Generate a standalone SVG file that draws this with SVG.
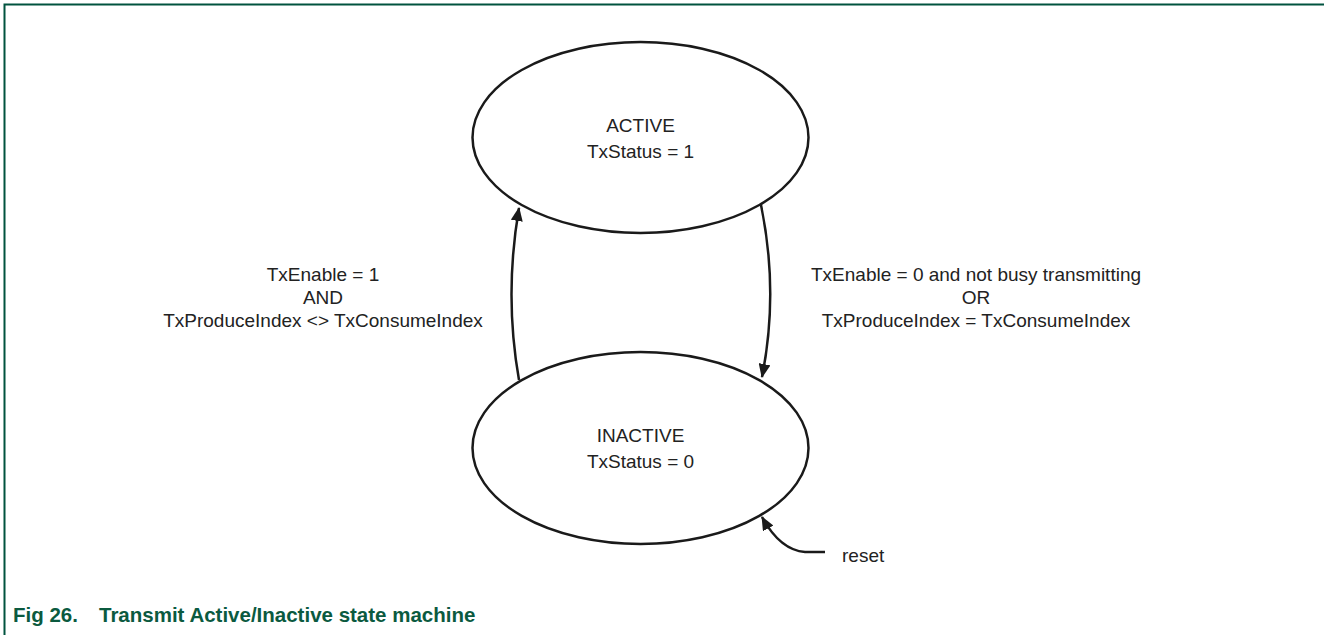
<svg xmlns="http://www.w3.org/2000/svg" width="1324" height="635" viewBox="0 0 1324 635">
<style>
.state{fill:#fff;stroke:#1a1a1a;stroke-width:2.5}
.t{font-family:"Liberation Sans",Arial,sans-serif;font-size:19px;fill:#222;text-anchor:middle}
.edge{fill:none;stroke:#1a1a1a;stroke-width:2.5}
.cap{font-family:"Liberation Sans",Arial,sans-serif;font-size:20.5px;font-weight:bold;fill:#0b5a3f}
</style>
<defs>
<marker id="ah" viewBox="0 0 14 12" refX="13" refY="6" markerWidth="14" markerHeight="12" markerUnits="userSpaceOnUse" orient="auto">
<path d="M0,0 L14,6 L0,12 Z" fill="#1a1a1a"/>
</marker>
</defs>
<rect width="1324" height="635" fill="#fff"/>
<path d="M4.5,635 V4.5 H1324" fill="none" stroke="#00533f" stroke-width="2"/>
<g id="connectors">
<path class="edge" d="M519,380 Q504,295 519,208" marker-end="url(#ah)"/>
<path class="edge" d="M761,205 Q779,292 762,377" marker-end="url(#ah)"/>
<path class="edge" d="M825,552 H805 Q780,550 762,517" marker-end="url(#ah)"/>
</g>
<g id="active">
<ellipse class="state" cx="640.5" cy="137.5" rx="168" ry="95.5"/>
<text class="t" x="640.5" y="132">ACTIVE</text>
<text class="t" x="640.5" y="157.5">TxStatus = 1</text>
</g>
<g id="inactive">
<ellipse class="state" cx="640.5" cy="448" rx="168" ry="96"/>
<text class="t" x="640.5" y="442">INACTIVE</text>
<text class="t" x="640.5" y="468">TxStatus = 0</text>
</g>
<g id="label-left">
<text class="t" x="323" y="281">TxEnable = 1</text>
<text class="t" x="323" y="304">AND</text>
<text class="t" x="323" y="327">TxProduceIndex &lt;&gt; TxConsumeIndex</text>
</g>
<g id="label-right">
<text class="t" x="976" y="281">TxEnable = 0 and not busy transmitting</text>
<text class="t" x="976" y="304">OR</text>
<text class="t" x="976" y="327">TxProduceIndex = TxConsumeIndex</text>
</g>
<g id="reset-label">
<text class="t" x="842" y="562" style="text-anchor:start">reset</text>
</g>
<g id="caption">
<text class="cap" x="13" y="622">Fig 26.</text>
<text class="cap" x="99" y="622">Transmit Active/Inactive state machine</text>
</g>
</svg>
